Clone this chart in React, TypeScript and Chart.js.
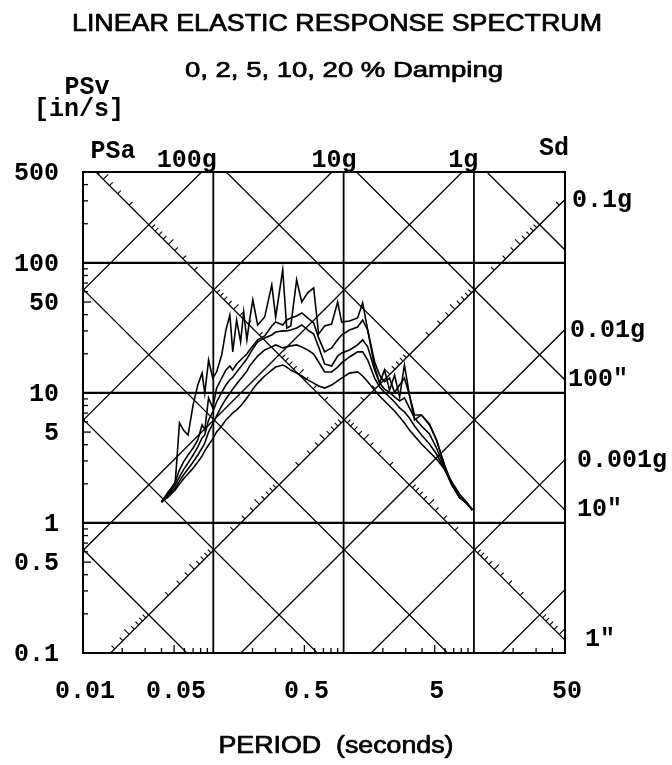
import React, { useEffect, useRef } from "react";
import { Chart, registerables } from "chart.js";

Chart.register(...registerables);

// ---- data (period in s, pseudo-velocity in in/s) ----
const periods = [0.040, 0.045, 0.051, 0.055, 0.059, 0.064, 0.070, 0.076, 0.082, 0.086, 0.092, 0.099, 0.106, 0.116, 0.125, 0.134, 0.141, 0.151, 0.162, 0.171, 0.181, 0.190, 0.201, 0.219, 0.248, 0.281, 0.301, 0.341, 0.366, 0.393, 0.436, 0.477, 0.530, 0.589, 0.643, 0.715, 0.809, 0.900, 0.965, 1.11, 1.28, 1.40, 1.53, 1.73, 1.89, 2.06, 2.25, 2.46, 2.69, 2.93, 3.20, 3.50, 3.96, 4.56, 5.16, 5.94, 6.72, 7.74, 8.76, 9.74];
const psv0 = [1.45, 1.73, 2.03, 5.88, 5.19, 4.75, 8.09, 11.5, 14.2, 9.95, 17.9, 13.0, 14.5, 19.6, 30.5, 39.8, 20.7, 36.4, 24.7, 42.0, 25.6, 36.4, 51.9, 33.3, 38.4, 67.7, 38.4, 88.4, 31.6, 32.7, 74.0, 50.1, 58.8, 64.2, 28.4, 32.7, 33.9, 50.1, 35.1, 35.7, 37.7, 49.2, 30.5, 15.8, 11.9, 15.0, 10.5, 13.7, 9.31, 16.4, 9.65, 6.20, 6.77, 5.78, 4.35, 2.79, 2.03, 1.58, 1.45, 1.26];
const psv2 = [1.45, 1.67, 2.07, 2.56, 2.94, 3.33, 3.77, 4.35, 5.67, 5.19, 9.15, 7.67, 10.9, 13.0, 15.0, 16.1, 15.0, 16.7, 17.9, 18.9, 19.9, 21.4, 23.0, 25.6, 27.4, 32.7, 35.1, 33.3, 36.4, 37.7, 39.1, 41.2, 37.7, 34.5, 26.5, 20.7, 22.2, 25.6, 27.9, 30.5, 32.1, 36.4, 30.5, 17.3, 13.7, 12.2, 13.0, 10.1, 11.5, 13.0, 9.65, 6.77, 6.77, 5.67, 4.35, 2.79, 2.03, 1.58, 1.42, 1.26];
const psv5 = [1.45, 1.64, 1.96, 2.26, 2.56, 2.89, 3.33, 3.84, 4.50, 4.75, 6.20, 7.14, 8.52, 10.1, 11.5, 12.6, 13.2, 14.5, 15.8, 17.0, 18.3, 19.9, 21.8, 24.7, 26.5, 27.9, 29.4, 30.0, 30.0, 30.5, 31.6, 33.3, 30.5, 28.4, 22.6, 16.7, 16.1, 19.2, 20.3, 21.4, 23.4, 25.6, 22.6, 15.0, 11.9, 10.7, 10.1, 9.31, 8.67, 9.15, 7.67, 6.42, 5.57, 4.84, 3.77, 2.69, 1.99, 1.58, 1.42, 1.26];
const psv10 = [1.45, 1.61, 1.86, 2.10, 2.34, 2.60, 2.94, 3.33, 3.77, 4.12, 5.01, 5.78, 6.65, 7.94, 8.99, 9.95, 10.7, 11.7, 12.8, 13.7, 14.7, 16.1, 17.3, 19.2, 21.4, 22.6, 23.4, 22.2, 22.6, 23.0, 23.4, 22.6, 21.4, 19.9, 17.3, 14.5, 14.5, 15.8, 17.0, 18.9, 20.7, 20.7, 17.9, 13.0, 11.1, 10.1, 9.31, 8.52, 7.67, 7.14, 6.42, 5.57, 4.75, 4.05, 3.39, 2.60, 1.99, 1.58, 1.42, 1.26];
const psv20 = [1.45, 1.58, 1.79, 1.99, 2.18, 2.39, 2.64, 2.94, 3.27, 3.58, 3.98, 4.43, 5.01, 5.57, 6.20, 6.65, 7.02, 7.40, 7.94, 8.52, 9.15, 9.79, 10.7, 11.9, 13.5, 15.0, 15.8, 16.4, 15.8, 15.0, 14.2, 13.5, 12.6, 11.9, 11.3, 10.9, 11.5, 12.4, 13.0, 14.2, 14.5, 13.5, 12.2, 10.5, 9.48, 8.67, 7.94, 7.27, 6.53, 5.88, 5.19, 4.66, 4.05, 3.51, 3.10, 2.60, 2.10, 1.67, 1.45, 1.26];
const dampingLabels = ["0 %", "2 %", "5 %", "10 %", "20 %"];

// ---- axes / tripartite grid ----
const xRange = [0.01, 50];
const yRange = [0.1, 500];
const xGridDecades = [0.1, 1, 10];
const yGridDecades = [1, 10, 100];
const xLabelValues = [0.01, 0.05, 0.5, 5, 50];
const xLabelTexts = ["0.01", "0.05", "0.5", "5", "50"];
const yLabelValues = [500, 100, 50, 10, 5, 1, 0.5, 0.1];
const yLabelTexts = ["500", "100", "50", "10", "5", "1", "0.5", "0.1"];
const accelLinesG = [0.0001, 0.001, 0.01, 0.1, 1, 10, 100];
const dispLinesIn = [0.001, 0.01, 0.1, 1, 10, 100, 1000];
const tickedAccelLineG = 0.1;
const tickedDispLineIn = 1;
const topAccelG = [100, 10, 1];
const topAccelTexts = ["100g", "10g", "1g"];
const rightAccelG = [0.1, 0.01, 0.001];
const rightAccelTexts = ["0.1g", "0.01g", "0.001g"];
const rightDispIn = [100, 10, 1];
const rightDispTexts = ['100"', '10"', '1"'];
const G_IN = 386.09;
const TWO_PI = 2 * Math.PI;

const MONO = '"Liberation Mono", "Courier New", monospace';
const SANS = '"Liberation Sans", Arial, sans-serif';

function minorValues(lo: number, hi: number) {
  const out: number[] = [];
  for (let p = Math.floor(Math.log10(lo)); p <= Math.ceil(Math.log10(hi)); p++) {
    for (let k = 2; k <= 9; k++) {
      const v = k * Math.pow(10, p);
      if (v > lo * 1.0001 && v < hi * 0.9999) out.push(v);
    }
  }
  return out;
}

function mantissa(v: number) {
  return Math.round(v / Math.pow(10, Math.floor(Math.log10(v * 1.0001))));
}

function drawText(ctx: CanvasRenderingContext2D, text: string, x: number, y: number, font: string, align: CanvasTextAlign, width?: number, stroke?: number) {
  ctx.save();
  ctx.font = font;
  ctx.textAlign = align;
  ctx.textBaseline = "middle";
  ctx.fillStyle = "#000";
  ctx.strokeStyle = "#000";
  ctx.translate(x, y);
  if (width) {
    const w = ctx.measureText(text).width;
    ctx.scale(width / w, 1);
  }
  ctx.fillText(text, 0, 0);
  if (stroke) {
    ctx.lineWidth = stroke;
    ctx.lineJoin = "round";
    ctx.strokeText(text, 0, 0);
  }
  ctx.restore();
}

const tripartite = {
  id: "tripartite",
  beforeDatasetsDraw(chart: any) {
    const { ctx, chartArea: a, scales } = chart;
    const xs = scales.x;
    const ys = scales.y;
    const px = (T: number) => xs.getPixelForValue(T);
    const py = (v: number) => ys.getPixelForValue(v);
    const seg = (x1: number, y1: number, x2: number, y2: number) => {
      ctx.beginPath();
      ctx.moveTo(x1, y1);
      ctx.lineTo(x2, y2);
      ctx.stroke();
    };
    const inside = (X: number, Y: number) => X > a.left + 1 && X < a.right - 1 && Y > a.top + 1 && Y < a.bottom - 1;
    ctx.save();
    ctx.beginPath();
    ctx.rect(a.left, a.top, a.right - a.left, a.bottom - a.top);
    ctx.clip();
    ctx.strokeStyle = "#000";
    ctx.lineCap = "butt";

    // diagonal lines: constant pseudo-acceleration and constant displacement
    ctx.lineWidth = 1.3;
    const T0 = xRange[0] / 2, T1 = xRange[1] * 2;
    for (const ag of accelLinesG) {
      const f = (T: number) => (ag * G_IN * T) / TWO_PI;
      seg(px(T0), py(f(T0)), px(T1), py(f(T1)));
    }
    for (const d of dispLinesIn) {
      const f = (T: number) => (TWO_PI * d) / T;
      seg(px(T0), py(f(T0)), px(T1), py(f(T1)));
    }

    // ticks along the two scale diagonals
    ctx.lineWidth = 1.1;
    const tickAt = (ag: number, d: number, alongDisp: boolean, mant: number) => {
      const T = TWO_PI * Math.sqrt(d / (ag * G_IN));
      const X = px(T), Y = py((TWO_PI * d) / T);
      if (!inside(X, Y)) return;
      const T2 = T * 1.2;
      const v2 = alongDisp ? (TWO_PI * d) / T2 : (ag * G_IN * T2) / TWO_PI;
      let dx = px(T2) - X, dy = py(v2) - Y;
      const L = Math.hypot(dx, dy);
      dx /= L; dy /= L;
      const len = mant === 5 ? 7 : 4.5;
      seg(X, Y, X + dy * len, Y - dx * len);
    };
    for (const ag of minorValues(1e-6, 1e4)) tickAt(ag, tickedDispLineIn, true, mantissa(ag));
    for (const d of minorValues(1e-5, 1e5)) tickAt(tickedAccelLineG, d, false, mantissa(d));

    // decade grid
    ctx.lineWidth = 1.8;
    for (const T of xGridDecades) seg(px(T), a.top, px(T), a.bottom);
    ctx.lineWidth = 2.2;
    for (const v of yGridDecades) seg(a.left, py(v), a.right, py(v));

    // minor ticks on the left and bottom axes (inside)
    ctx.lineWidth = 1.3;
    for (const v of minorValues(yRange[0], yRange[1])) {
      seg(a.left, py(v), a.left + (mantissa(v) === 5 ? 8 : 5), py(v));
    }
    for (const T of minorValues(xRange[0], xRange[1])) {
      seg(px(T), a.bottom, px(T), a.bottom - (mantissa(T) === 5 ? 8 : 5));
    }
    ctx.restore();
  },
  afterDatasetsDraw(chart: any) {
    const { ctx, chartArea: a, scales } = chart;
    const xs = scales.x;
    const ys = scales.y;
    const px = (T: number) => xs.getPixelForValue(T);
    const py = (v: number) => ys.getPixelForValue(v);
    ctx.save();
    ctx.strokeStyle = "#000";
    ctx.lineWidth = 2;
    ctx.strokeRect(a.left, a.top, a.right - a.left, a.bottom - a.top);
    ctx.restore();

    const mono = `bold 25px ${MONO}`;
    // left labels
    yLabelValues.forEach((v, i) => drawText(ctx, yLabelTexts[i], a.left - 24, py(v) + 2, mono, "right"));
    // bottom labels
    xLabelValues.forEach((T, i) => drawText(ctx, xLabelTexts[i], px(T) + 2, a.bottom + 39, mono, "center"));
    // top acceleration labels (where the lines reach the top edge)
    const topOffsets = [-15, 2, 1];
    topAccelG.forEach((ag, i) => {
      const T = (yRange[1] * TWO_PI) / (ag * G_IN);
      drawText(ctx, topAccelTexts[i], px(T) + topOffsets[i], a.top - 11, mono, "center");
    });
    // right labels
    const accOff = [7, 5, 12];
    rightAccelG.forEach((ag, i) => {
      const v = (ag * G_IN * xRange[1]) / TWO_PI;
      drawText(ctx, rightAccelTexts[i], a.right + accOff[i], py(v) + 1, mono, "left");
    });
    const dispOff = [3, 12, 20];
    rightDispIn.forEach((d, i) => {
      const v = (TWO_PI * d) / xRange[1];
      drawText(ctx, rightDispTexts[i], a.right + dispOff[i], py(v), mono, "left");
    });
    // axis names
    drawText(ctx, "PSa", 113, 152, mono, "center");
    drawText(ctx, "Sd", 554, 149, mono, "center");
    drawText(ctx, "PSv", 87, 88, mono, "center");
    drawText(ctx, "[in/s]", 79, 110, mono, "center");
    // titles
    drawText(ctx, "LINEAR ELASTIC RESPONSE SPECTRUM", 337, 24, `24px ${SANS}`, "center", 530, 0.7);
    drawText(ctx, "0, 2, 5, 10, 20 % Damping", 344, 71, `22px ${SANS}`, "center", 318, 0.7);
    drawText(ctx, "PERIOD  (seconds)", 336, 747, `23px ${SANS}`, "center", 235, 0.7);
  },
};

export default function App() {
  const ref = useRef<HTMLCanvasElement | null>(null);
  useEffect(() => {
    if (!ref.current) return;
    const series = [psv0, psv2, psv5, psv10, psv20];
    const chart = new Chart(ref.current, {
      type: "line",
      data: {
        datasets: series.map((s, k) => ({
          label: dampingLabels[k],
          data: periods.map((T, i) => ({ x: T, y: s[i] })),
          borderColor: "#000",
          borderWidth: 1.6,
          pointRadius: 0,
          fill: false,
          tension: 0,
        })),
      },
      options: {
        animation: false,
        responsive: false,
        devicePixelRatio: 1,
        layout: { padding: { left: 83, top: 172, right: 107, bottom: 112 } },
        scales: {
          x: { type: "logarithmic", min: xRange[0], max: xRange[1], display: false },
          y: { type: "logarithmic", min: yRange[0], max: yRange[1], display: false },
        },
        plugins: { legend: { display: false }, tooltip: { enabled: false } },
      },
      plugins: [tripartite],
    } as any);
    return () => chart.destroy();
  }, []);
  return (
    <div style={{ position: "absolute", left: 0, top: 0, width: 672, height: 765, background: "#fff" }}>
      <canvas ref={ref} width={672} height={765} style={{ display: "block", width: 672, height: 765 }} />
    </div>
  );
}
